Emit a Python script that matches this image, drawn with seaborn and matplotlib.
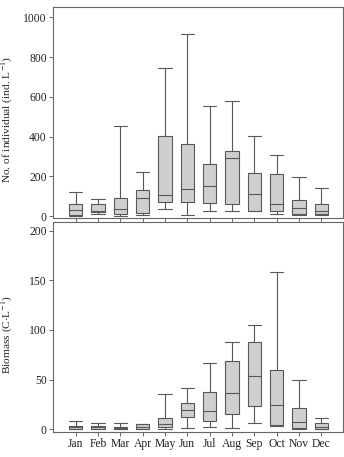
import numpy as np
import pandas as pd
import seaborn as sns
import matplotlib.pyplot as plt

months = ["Jan", "Feb", "Mar", "Apr", "May", "Jun",
          "Jul", "Aug", "Sep", "Oct", "Nov", "Dec"]

# five-number summaries (min, Q1, median, Q3, max)
ind_min = [0, 10, 0, 5, 34, 3, 27, 24, 24, 10, 5, 5]
ind_q1 = [5, 20, 8, 13, 72, 69, 66, 59, 27, 25, 8, 8]
ind_med = [30, 27, 35, 91, 106, 134, 153, 291, 111, 61, 42, 27]
ind_q3 = [60, 62, 89, 129, 405, 361, 264, 326, 215, 212, 79, 59]
ind_max = [119, 86, 454, 222, 746, 916, 553, 578, 405, 308, 197, 141]

bio_min = [0, 0, 0, 0, 0, 0.7, 1.7, 0.7, 6.4, 3.7, 0, 0]
bio_q1 = [0.3, 0.3, 0.3, 0.3, 2, 12, 8, 15, 23.2, 4.4, 0.7, 0.3]
bio_med = [2, 1.7, 1.3, 2.7, 5, 19.2, 18.5, 36.7, 53.5, 24, 7.4, 1.7]
bio_q3 = [3.4, 3, 2, 5, 11.4, 26.3, 37, 69, 88, 59.3, 21.2, 6.4]
bio_max = [8.4, 6, 6, 5.4, 35.4, 41.5, 66.3, 88.2, 104.7, 158.2, 49.8, 10.8]


def long_frame(*cols):
    vals = np.column_stack(cols).ravel()
    return pd.DataFrame({"month": np.repeat(months, len(cols)), "value": vals})


df_ind = long_frame(ind_min, ind_q1, ind_med, ind_q3, ind_max)
df_bio = long_frame(bio_min, bio_q1, bio_med, bio_q3, bio_max)

sns.set_style("ticks")
plt.rcParams["font.family"] = ["Liberation Serif", "DejaVu Serif"]
plt.rcParams["mathtext.fontset"] = "stix"

edge = "#585858"
fig = plt.figure(figsize=(3.44, 4.57), dpi=100)
ax1 = fig.add_axes([0.155, 0.522, 0.841, 0.462])
ax2 = fig.add_axes([0.155, 0.055, 0.841, 0.460])

for ax, df in [(ax1, df_ind), (ax2, df_bio)]:
    sns.boxplot(data=df, x="month", y="value", order=months, whis=np.inf,
                width=0.6, color="#cfcfcf", linecolor=edge, linewidth=0.8,
                saturation=1, capwidths=0.6, ax=ax)
    ax.set_xlabel("")
    ax.set_xlim(-1.0, 11.95)
    for s in ax.spines.values():
        s.set_color("#666666")
        s.set_linewidth(0.8)
    ax.tick_params(labelsize=8.4, length=3, width=0.7, color="#666666",
                   pad=1.7, labelcolor="#222222")

ax1.set_ylim(-12, 1050)
ax1.set_yticks(range(0, 1001, 200))
ax1.tick_params(axis="x", labelbottom=False)
ax1.set_ylabel(r"No. of individual (ind. L$^{-1}$)", fontsize=8.2,
               color="#222222")
ax1.yaxis.set_label_coords(-0.132, 0.47)

ax2.set_ylim(-2.7, 209)
ax2.set_yticks(range(0, 201, 50))
ax2.set_ylabel(r"Biomass (C$\cdot$L$^{-1}$)", fontsize=8.2, color="#222222")
ax2.yaxis.set_label_coords(-0.132, 0.465)

fig.savefig("out.png", dpi=100)
